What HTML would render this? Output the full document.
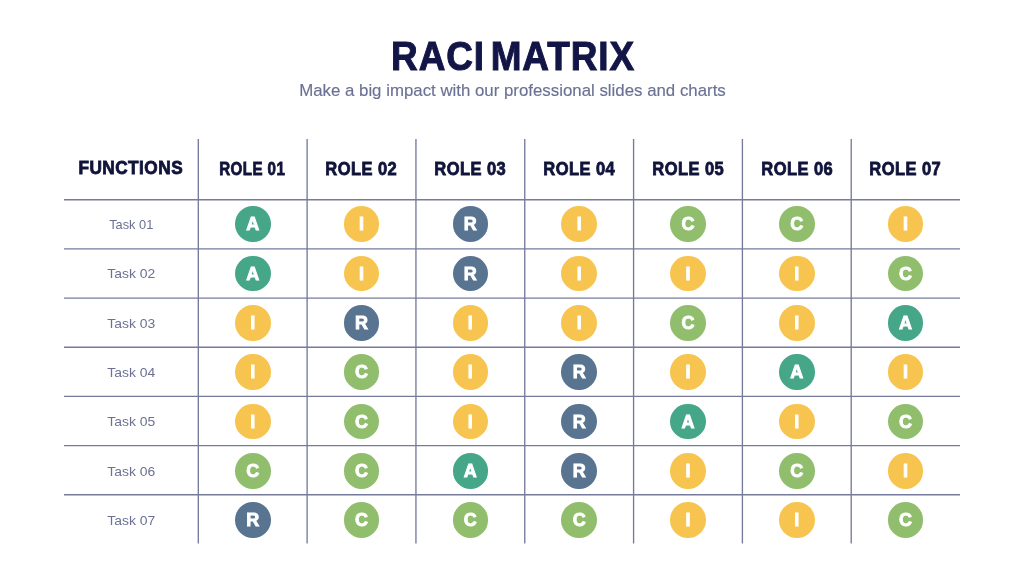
<!DOCTYPE html>
<html><head><meta charset="utf-8"><style>
html,body{margin:0;padding:0;background:#fff;}
body{width:1024px;height:576px;position:relative;overflow:hidden;font-family:"Liberation Sans",sans-serif;}
#wrap{position:absolute;left:0;top:0;width:1024px;height:576px;will-change:transform;}
#t1{position:absolute;left:0;width:1024px;top:31px;height:50px;line-height:50px;text-align:center;color:#121545;font-weight:bold;font-size:40px;}
#t1 span{display:inline-block;transform:scaleX(0.923);word-spacing:-6px;padding-left:3px;letter-spacing:1px;-webkit-text-stroke:1px #121545;}
#t2{position:absolute;left:0;width:1024px;top:81px;height:20px;line-height:20px;text-align:center;color:#6b7194;font-size:17px;}
#t2 span{display:inline-block;transform:scaleX(0.99);-webkit-text-stroke:0.15px #6b7194;}
svg{position:absolute;left:0;top:0;}
.h{position:absolute;top:149px;height:40px;line-height:40px;text-align:center;color:#10133a;font-weight:bold;font-size:18px;}
.h span{display:inline-block;-webkit-text-stroke:0.8px #10133a;letter-spacing:0.5px;}
.h span.fn{transform:scaleX(0.956);}
.h span.rl{transform:scaleX(0.916);}
.h span.r1{transform:scaleX(0.84);}
.t{position:absolute;height:20px;line-height:20px;text-align:center;color:#6b7194;font-size:13.5px;}
.t span{display:inline-block;transform:scaleX(1.03);}
.t span.t1{transform:scaleX(0.95);}
.dot{position:absolute;width:35.6px;height:35.6px;border-radius:50%;color:#fff;font-weight:bold;font-size:18px;line-height:37.6px;text-align:center;-webkit-text-stroke:0.9px #fff;}
.ka{background:#45a788;}
.ki{background:#f7c54f;}
.kr{background:#587491;}
.kc{background:#90be6d;}
</style></head><body><div id="wrap">
<div id="t1"><span>RACI MATRIX</span></div>
<div id="t2"><span>Make a big impact with our professional slides and charts</span></div>
<svg width="1024" height="576" viewBox="0 0 1024 576"><g stroke="#767b9b" stroke-width="1.35" fill="none">
<line x1="64" y1="199.75" x2="960" y2="199.75"/>
<line x1="64" y1="248.92" x2="960" y2="248.92"/>
<line x1="64" y1="298.08" x2="960" y2="298.08"/>
<line x1="64" y1="347.25" x2="960" y2="347.25"/>
<line x1="64" y1="396.42" x2="960" y2="396.42"/>
<line x1="64" y1="445.58" x2="960" y2="445.58"/>
<line x1="64" y1="494.75" x2="960" y2="494.75"/>
<line x1="198.30" y1="139" x2="198.30" y2="543.5"/>
<line x1="307.12" y1="139" x2="307.12" y2="543.5"/>
<line x1="415.94" y1="139" x2="415.94" y2="543.5"/>
<line x1="524.76" y1="139" x2="524.76" y2="543.5"/>
<line x1="633.58" y1="139" x2="633.58" y2="543.5"/>
<line x1="742.40" y1="139" x2="742.40" y2="543.5"/>
<line x1="851.22" y1="139" x2="851.22" y2="543.5"/>
</g></svg>
<div class="h" style="left:64px;width:134.30px;top:148px"><span class="fn">FUNCTIONS</span></div>
<div class="h" style="left:198.30px;width:108.82px"><span class="rl r1">ROLE 01</span></div>
<div class="h" style="left:307.12px;width:108.82px"><span class="rl">ROLE 02</span></div>
<div class="h" style="left:415.94px;width:108.82px"><span class="rl">ROLE 03</span></div>
<div class="h" style="left:524.76px;width:108.82px"><span class="rl">ROLE 04</span></div>
<div class="h" style="left:633.58px;width:108.82px"><span class="rl">ROLE 05</span></div>
<div class="h" style="left:742.40px;width:108.82px"><span class="rl">ROLE 06</span></div>
<div class="h" style="left:851.22px;width:108.82px"><span class="rl">ROLE 07</span></div>
<div class="t" style="left:64px;width:134.30px;top:214.90px"><span class=t1>Task 01</span></div>
<div class="t" style="left:64px;width:134.30px;top:264.23px"><span>Task 02</span></div>
<div class="t" style="left:64px;width:134.30px;top:313.56px"><span>Task 03</span></div>
<div class="t" style="left:64px;width:134.30px;top:362.89px"><span>Task 04</span></div>
<div class="t" style="left:64px;width:134.30px;top:412.22px"><span>Task 05</span></div>
<div class="t" style="left:64px;width:134.30px;top:461.55px"><span>Task 06</span></div>
<div class="t" style="left:64px;width:134.30px;top:510.88px"><span>Task 07</span></div>
<div class="dot ka" style="left:234.91px;top:206.40px">A</div>
<div class="dot ki" style="left:343.73px;top:206.40px">I</div>
<div class="dot kr" style="left:452.55px;top:206.40px">R</div>
<div class="dot ki" style="left:561.37px;top:206.40px">I</div>
<div class="dot kc" style="left:670.19px;top:206.40px">C</div>
<div class="dot kc" style="left:779.01px;top:206.40px">C</div>
<div class="dot ki" style="left:887.81px;top:206.40px">I</div>
<div class="dot ka" style="left:234.91px;top:255.73px">A</div>
<div class="dot ki" style="left:343.73px;top:255.73px">I</div>
<div class="dot kr" style="left:452.55px;top:255.73px">R</div>
<div class="dot ki" style="left:561.37px;top:255.73px">I</div>
<div class="dot ki" style="left:670.19px;top:255.73px">I</div>
<div class="dot ki" style="left:779.01px;top:255.73px">I</div>
<div class="dot kc" style="left:887.81px;top:255.73px">C</div>
<div class="dot ki" style="left:234.91px;top:305.06px">I</div>
<div class="dot kr" style="left:343.73px;top:305.06px">R</div>
<div class="dot ki" style="left:452.55px;top:305.06px">I</div>
<div class="dot ki" style="left:561.37px;top:305.06px">I</div>
<div class="dot kc" style="left:670.19px;top:305.06px">C</div>
<div class="dot ki" style="left:779.01px;top:305.06px">I</div>
<div class="dot ka" style="left:887.81px;top:305.06px">A</div>
<div class="dot ki" style="left:234.91px;top:354.39px">I</div>
<div class="dot kc" style="left:343.73px;top:354.39px">C</div>
<div class="dot ki" style="left:452.55px;top:354.39px">I</div>
<div class="dot kr" style="left:561.37px;top:354.39px">R</div>
<div class="dot ki" style="left:670.19px;top:354.39px">I</div>
<div class="dot ka" style="left:779.01px;top:354.39px">A</div>
<div class="dot ki" style="left:887.81px;top:354.39px">I</div>
<div class="dot ki" style="left:234.91px;top:403.72px">I</div>
<div class="dot kc" style="left:343.73px;top:403.72px">C</div>
<div class="dot ki" style="left:452.55px;top:403.72px">I</div>
<div class="dot kr" style="left:561.37px;top:403.72px">R</div>
<div class="dot ka" style="left:670.19px;top:403.72px">A</div>
<div class="dot ki" style="left:779.01px;top:403.72px">I</div>
<div class="dot kc" style="left:887.81px;top:403.72px">C</div>
<div class="dot kc" style="left:234.91px;top:453.05px">C</div>
<div class="dot kc" style="left:343.73px;top:453.05px">C</div>
<div class="dot ka" style="left:452.55px;top:453.05px">A</div>
<div class="dot kr" style="left:561.37px;top:453.05px">R</div>
<div class="dot ki" style="left:670.19px;top:453.05px">I</div>
<div class="dot kc" style="left:779.01px;top:453.05px">C</div>
<div class="dot ki" style="left:887.81px;top:453.05px">I</div>
<div class="dot kr" style="left:234.91px;top:502.38px">R</div>
<div class="dot kc" style="left:343.73px;top:502.38px">C</div>
<div class="dot kc" style="left:452.55px;top:502.38px">C</div>
<div class="dot kc" style="left:561.37px;top:502.38px">C</div>
<div class="dot ki" style="left:670.19px;top:502.38px">I</div>
<div class="dot ki" style="left:779.01px;top:502.38px">I</div>
<div class="dot kc" style="left:887.81px;top:502.38px">C</div>
</div></body></html>
